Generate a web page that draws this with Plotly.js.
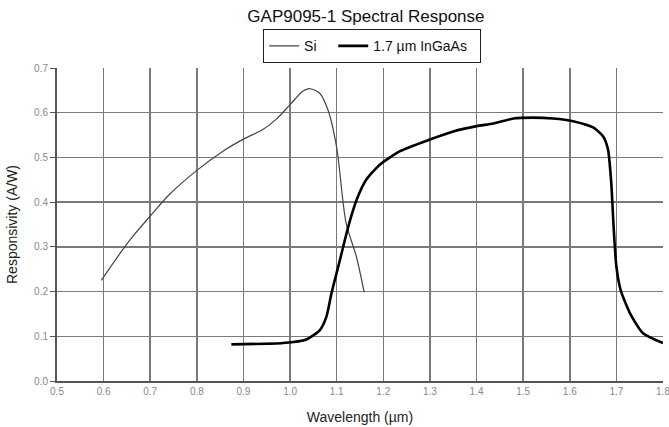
<!DOCTYPE html>
<html><head><meta charset="utf-8">
<script src="https://cdn.plot.ly/plotly-3.0.1.min.js"></script>
<style>html,body{margin:0;padding:0;background:#fff;}#chart{width:669px;height:427px;}</style>
</head><body><div id="chart"></div>
<script>
const siX = [0.595,0.641,0.663,0.700,0.741,0.800,0.856,0.900,0.941,0.970,1.000,1.027,1.041,1.063,1.081,1.100,1.120,1.142,1.159];
const siY = [0.225,0.294,0.324,0.369,0.417,0.471,0.514,0.541,0.562,0.585,0.618,0.648,0.654,0.644,0.607,0.522,0.354,0.279,0.198];
const ingaasX = [0.874,0.985,1.035,1.064,1.078,1.089,1.107,1.125,1.143,1.164,1.193,1.236,1.300,1.350,1.400,1.436,1.479,1.521,1.564,1.607,1.650,1.671,1.682,1.689,1.694,1.700,1.709,1.729,1.757,1.800];
const ingaasY = [0.082,0.085,0.093,0.114,0.144,0.197,0.271,0.346,0.406,0.451,0.484,0.514,0.540,0.558,0.570,0.576,0.587,0.589,0.587,0.581,0.567,0.548,0.518,0.443,0.346,0.256,0.204,0.152,0.107,0.085];
const xTicks = [0.5,0.6,0.7,0.8,0.9,1.0,1.1,1.2,1.3,1.4,1.5,1.6,1.7,1.8];
const xTickText = ['0.5','0.6','0.7','0.8','0.9','1.0','1.1','1.2','1.3','1.4','1.5','1.6','1.7','1.8'];
const yTicks = [0,0.1,0.2,0.3,0.4,0.5,0.6,0.7];
const yTickText = ['0.0','0.1','0.2','0.3','0.4','0.5','0.6','0.7'];

const traces = [
  {x: siX, y: siY, name: 'Si\u00a0\u00a0\u00a0', mode: 'lines', line: {color: '#444', width: 1.2, shape: 'spline', smoothing: 0.8}},
  {x: ingaasX, y: ingaasY, name: '1.7 µm InGaAs\u00a0\u00a0', mode: 'lines', line: {color: '#000', width: 2.6, shape: 'spline', smoothing: 0.6}}
];
const layout = {
  width: 669, height: 427,
  margin: {l: 57, r: 6, t: 68, b: 46},
  paper_bgcolor: '#fff', plot_bgcolor: '#fff',
  font: {family: 'Liberation Sans, Arial, sans-serif', color: '#000'},
  title: {text: 'GAP9095-1 Spectral Response', x: 0.547, xanchor: 'center', y: 0.962, yanchor: 'middle', font: {size: 17, color: '#111'}},
  showlegend: true,
  legend: {orientation: 'h', x: 0.52, xanchor: 'center', y: 1.015, yanchor: 'bottom', bordercolor: '#222', borderwidth: 1, bgcolor: '#fff', font: {size: 14, color: '#111'}, itemwidth: 30, tracegroupgap: 0},
  xaxis: {range: [0.5, 1.8], tickvals: xTicks, ticktext: xTickText, showgrid: true, gridcolor: '#7a7a7a', gridwidth: 1.5,
    showline: true, linecolor: '#555', linewidth: 2, ticks: '', tickfont: {size: 10, color: '#888'}, zeroline: false, ticklabeloverflow: 'allow',
    title: {text: 'Wavelength (µm)', font: {size: 14, color: '#222'}, standoff: 16}},
  yaxis: {range: [0, 0.7], tickvals: yTicks, ticktext: yTickText, showgrid: true, gridcolor: '#7a7a7a', gridwidth: 1.5,
    showline: true, linecolor: '#555', linewidth: 2, ticks: 'outside', ticklen: 5, tickcolor: '#555', tickfont: {size: 10, color: '#888'}, zeroline: false,
    title: {text: 'Responsivity (A/W)', font: {size: 14, color: '#222'}, standoff: 13}}
};
Plotly.newPlot('chart', traces, layout, {displayModeBar: false, staticPlot: true});
</script></body></html>
